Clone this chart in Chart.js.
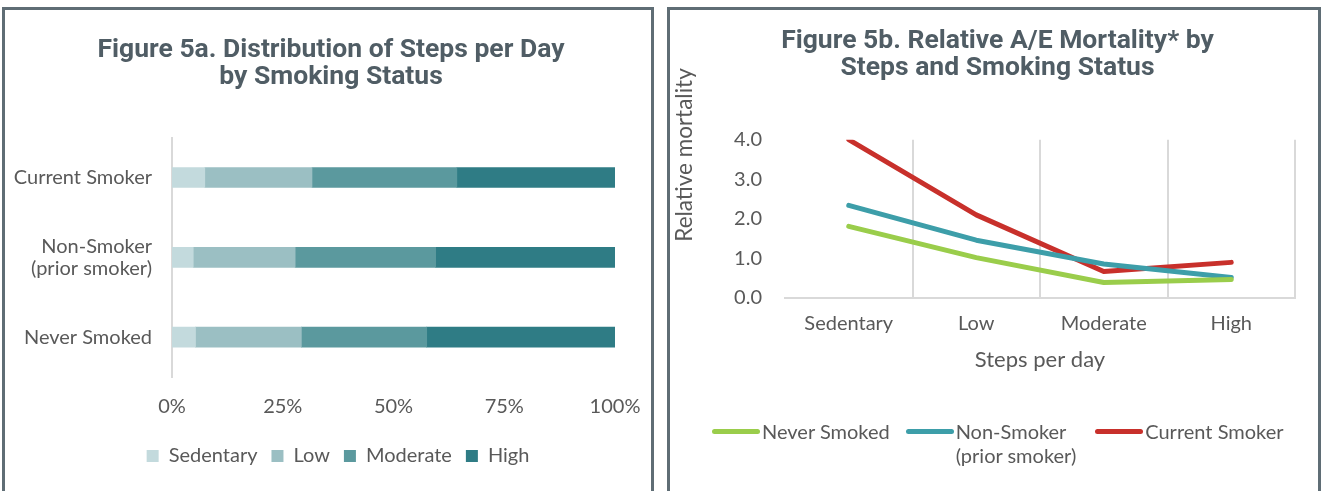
<!DOCTYPE html>
<html>
<head>
<meta charset="utf-8">
<script src="https://cdn.jsdelivr.net/npm/chart.js@4.4.1/dist/chart.umd.min.js"></script>
<style>
  body { margin: 0; background: #fff; width: 1322px; height: 491px; overflow: hidden; position: relative; font-family: 'Lato', sans-serif; }
  .panel { position: absolute; top: 7px; height: 500px; border: 3px solid #5f6d75; border-bottom: none; box-sizing: border-box; }
  #panelA { left: 2px; width: 652px; }
  #panelB { left: 667px; width: 654px; }
  .panel canvas { position: absolute; left: 0; top: 0; }
  #legendB { position: absolute; top: 409px; left: 42px; display: flex; font-size: 20px; color: #595959; line-height: 24px; }
  .item { display: flex; align-items: flex-start; margin-right: 16px; }
  .item.wide { margin-right: 19px; }
  .swatch { width: 48px; height: 5px; border-radius: 3px; margin-top: 10px; margin-right: 2px; }
</style>
</head>
<body>
<div class="panel" id="panelA"><canvas id="stepsChart"></canvas></div>
<div class="panel" id="panelB"><canvas id="mortChart"></canvas><div id="legendB"></div></div>
<script>
// Figure 5a data (share of each group, %)
const GROUPS = ['Current Smoker', ['Non-Smoker', '(prior smoker)'], 'Never Smoked'];
const SEDENTARY = [7.4, 4.8, 5.3];
const LOW = [24.2, 23.0, 23.9];
const MODERATE = [32.7, 31.7, 28.3];
const HIGH = [35.7, 40.5, 42.5];
const PCT_TICKS = [0, 25, 50, 75, 100];

// Figure 5b data (relative A/E mortality)
const STEP_LEVELS = ['Sedentary', 'Low', 'Moderate', 'High'];
const NEVER_SMOKED = [1.81, 1.02, 0.39, 0.47];
const NON_SMOKER = [2.34, 1.46, 0.86, 0.52];
const CURRENT_SMOKER = [4.0, 2.1, 0.67, 0.9];

const TXT = '#595959';
const TITLE_CLR = '#505d65';
const FONT = "'Lato', sans-serif";
const TITLE_FONT = { family: "'Roboto', sans-serif", weight: 'bold', size: 26.5, lineHeight: 1.05 };

Chart.defaults.font.family = FONT;
Chart.defaults.font.size = 20;
Chart.defaults.color = TXT;

// title and legend of 5a are centred on the panel, not on the plot
const nudgeBoxes = {
    id: 'nudgeBoxes',
    afterLayout(chart) {
        chart.titleBlock.left += 21;
        chart.titleBlock.right += 21;
        chart.legend.left += 28;
        chart.legend.right += 28;
    }
};

const ctxA = document.getElementById('stepsChart');
ctxA.width = 646; ctxA.height = 484;

new Chart(ctxA, {
    type: 'bar',
    data: {
        labels: GROUPS,
        datasets: [
            { label: 'Sedentary', data: SEDENTARY, backgroundColor: '#c3dadd' },
            { label: 'Low', data: LOW, backgroundColor: '#9bbfc3' },
            { label: 'Moderate', data: MODERATE, backgroundColor: '#5b999e' },
            { label: 'High', data: HIGH, backgroundColor: '#2f7c85' }
        ]
    },
    options: {
        responsive: false,
        animation: false,
        indexAxis: 'y',
        barThickness: 20,
        layout: { padding: { right: 36, bottom: 18 } },
        plugins: {
            title: {
                display: true,
                text: ['Figure 5a. Distribution of Steps per Day', 'by Smoking Status'],
                color: TITLE_CLR,
                font: TITLE_FONT,
                padding: { top: 26, bottom: 46 }
            },
            legend: {
                position: 'bottom',
                labels: { boxWidth: 12, boxHeight: 12, padding: 14, color: TXT, font: { size: 20 } }
            },
            tooltip: { enabled: false }
        },
        scales: {
            x: {
                stacked: true,
                min: 0,
                max: 100,
                afterBuildTicks: s => { s.ticks = PCT_TICKS.map(v => ({ value: v })); },
                grid: { display: false },
                border: { display: false },
                ticks: { padding: 10, callback: v => v + '%' },
                afterFit: s => { s.height = 55; s.paddingLeft = 0; s.paddingRight = 0; }
            },
            y: {
                stacked: true,
                grid: { display: false },
                border: { display: true, color: '#d9d9d9', width: 2 },
                ticks: { padding: 12, font: { size: 20, lineHeight: 1.1 } },
                afterFit: s => { s.width = 167; }
            }
        }
    },
    plugins: [nudgeBoxes]
});

// y-axis title of 5b sits above the plot centre, so it is drawn by hand
const yTitle = {
    id: 'yTitle',
    afterDraw(chart) {
        const c = chart.ctx;
        c.save();
        c.translate(15, 145);
        c.rotate(-Math.PI / 2);
        c.font = "22.5px " + FONT;
        c.fillStyle = TXT;
        c.textAlign = 'center';
        c.textBaseline = 'middle';
        c.fillText('Relative mortality', 0, 0);
        c.restore();
    }
};

const ctxB = document.getElementById('mortChart');
ctxB.width = 648; ctxB.height = 484;

const lineSets = [
    { label: 'Never Smoked', data: NEVER_SMOKED, color: '#9acd4b' },
    { label: ['Non-Smoker', '(prior smoker)'], data: NON_SMOKER, color: '#3d9ea9' },
    { label: 'Current Smoker', data: CURRENT_SMOKER, color: '#c8302b' }
];

new Chart(ctxB, {
    type: 'line',
    data: {
        labels: STEP_LEVELS,
        datasets: lineSets.map(d => ({
            label: d.label,
            data: d.data,
            borderColor: d.color,
            backgroundColor: d.color,
            borderWidth: 5,
            borderCapStyle: 'round',
            borderJoinStyle: 'round',
            pointRadius: 0,
            tension: 0
        }))
    },
    options: {
        responsive: false,
        animation: false,
        layout: { padding: { left: 30, right: 23, bottom: 121 } },
        plugins: {
            title: {
                display: true,
                text: ['Figure 5b. Relative A/E Mortality* by', 'Steps and Smoking Status'],
                color: TITLE_CLR,
                font: TITLE_FONT,
                padding: { top: 17, bottom: 57 }
            },
            legend: { display: false },
            tooltip: { enabled: false }
        },
        scales: {
            x: {
                offset: true,
                grid: { display: true, offset: true, color: c => c.index === 0 ? 'rgba(0,0,0,0)' : '#d9d9d9', lineWidth: 2, drawTicks: false },
                border: { display: true, color: '#d9d9d9', width: 2 },
                ticks: { padding: 14 },
                title: { display: true, text: 'Steps per day', color: TXT, font: { size: 22 }, padding: 0 },
                afterFit: s => { s.height = 75; }
            },
            y: {
                min: 0,
                max: 4,
                grid: { display: false },
                border: { display: false },
                ticks: { stepSize: 1, padding: 15, callback: v => v.toFixed(1) },
                afterFit: s => { s.width = 85; }
            }
        }
    },
    plugins: [yTitle]
});

const legendB = document.getElementById('legendB');
lineSets.forEach(d => {
    const item = document.createElement('div');
    item.className = Array.isArray(d.label) ? 'item wide' : 'item';
    const sw = document.createElement('div');
    sw.className = 'swatch';
    sw.style.background = d.color;
    const txt = document.createElement('div');
    txt.innerHTML = [].concat(d.label).join('<br>');
    item.appendChild(sw);
    item.appendChild(txt);
    legendB.appendChild(item);
});
</script>
</body>
</html>
